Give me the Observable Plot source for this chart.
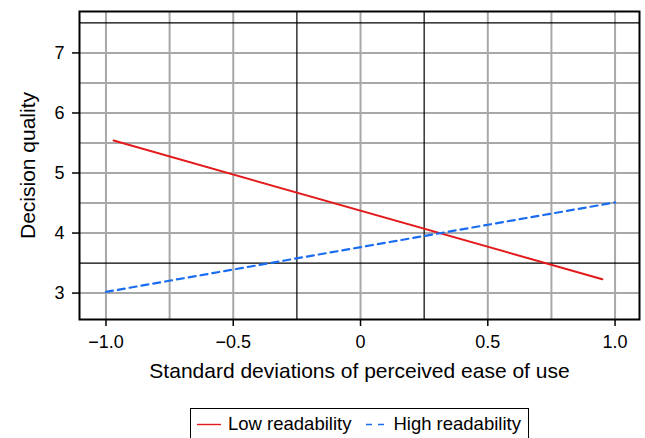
<!DOCTYPE html>
<html>
<head>
<meta charset="utf-8">
<script src="https://cdn.jsdelivr.net/npm/d3@7"></script>
<script src="https://cdn.jsdelivr.net/npm/@observablehq/plot@0.6"></script>
<style>
  body { margin: 0; background: #fff; font-family: "Liberation Sans", Arial, sans-serif; }
  #legend {
    box-sizing: border-box; margin-left: 190px; margin-top: 13px; width: 339px; height: 40px;
    border: 1px solid #000; padding: 5px 0 0 6px; display: flex; align-items: flex-start;
    font-size: 18.5px; line-height: 20px; color: #000; white-space: nowrap;
  }
  #legend svg { display: block; }
  .item { display: flex; align-items: center; }
</style>
</head>
<body>
<div id="chart"></div>
<script>
const seriesNames = ["Low readability", "High readability"];
const seriesColors = ["#e31a1c", "#1a6cf0"];
const lowX = [-0.97, 0.95];
const lowY = [5.54, 3.23];
const highX = [-1.0, 1.0];
const highY = [3.02, 4.51];
const xTicks = [-1, -0.5, 0, 0.5, 1];
const yTicks = [3, 4, 5, 6, 7];
const grayGridX = [-1, -0.75, -0.5, 0, 0.5, 0.75, 1];
const blackGridX = [-0.25, 0.25];
const grayGridY = [3, 4, 4.5, 5, 5.5, 6, 6.5, 7];
const blackGridY = [3.5, 7.5];
const xTitle = "Standard deviations of perceived ease of use";
const yTitle = "Decision quality";

const lowData = lowX.map((x, i) => ({x, y: lowY[i]}));
const highData = highX.map((x, i) => ({x, y: highY[i]}));
const fmtX = d => d === 0 ? "0" : (d < 0 ? "\u2212" : "") + Math.abs(d).toFixed(1);
const fmtY = d => String(d);

const plot = Plot.plot({
  width: 645, height: 395,
  marginLeft: 79, marginRight: 6, marginTop: 11, marginBottom: 76,
  style: {fontFamily: "'Liberation Sans', Arial, sans-serif", fontSize: "18px", color: "#000", background: "#fff"},
  x: {domain: [-1.104, 1.096]},
  y: {domain: [2.56, 7.69]},
  marks: [
    Plot.ruleX(grayGridX, {stroke: "#a8a8a8", strokeWidth: 2}),
    Plot.ruleY(grayGridY, {stroke: "#a8a8a8", strokeWidth: 2}),
    Plot.ruleX(blackGridX, {stroke: "#000", strokeWidth: 1.2}),
    Plot.ruleY(blackGridY, {stroke: "#000", strokeWidth: 1.2}),
    Plot.line(lowData, {x: "x", y: "y", stroke: seriesColors[0], strokeWidth: 2}),
    Plot.line(highData, {x: "x", y: "y", stroke: seriesColors[1], strokeWidth: 2.2, strokeDasharray: "7,5"}),
    Plot.frame({stroke: "#000", strokeWidth: 2}),
    Plot.axisX({ticks: xTicks, tickSize: 7, tickPadding: 9, tickFormat: fmtX, strokeWidth: 1.5, label: null}),
    Plot.axisX({ticks: [], tickSize: 0, label: xTitle, labelAnchor: "center", labelOffset: 58, labelArrow: "none", fontSize: 21}),
    Plot.axisY({ticks: yTicks, tickSize: 7, tickPadding: 8, tickFormat: fmtY, strokeWidth: 1.5, label: null}),
    Plot.axisY({ticks: [], tickSize: 0, label: yTitle, labelAnchor: "center", labelOffset: 59, labelArrow: "none", fontSize: 21})
  ]
});
document.getElementById("chart").appendChild(plot);

// legend
const legend = document.createElement("div");
legend.id = "legend";
const swatch = (i) => {
  const w = i === 0 ? 24 : 20;
  const dash = i === 0 ? "" : ` stroke-dasharray="6,6"`;
  return `<svg width="${w}" height="20"><line x1="0" x2="${w}" y1="10.5" y2="10.5" stroke="${seriesColors[i]}" stroke-width="1.4"${dash}/></svg>`;
};
legend.innerHTML =
  `<span class="item">${swatch(0)}<span style="margin-left:7px">${seriesNames[0]}</span></span>` +
  `<span class="item" style="margin-left:15px">${swatch(1)}<span style="margin-left:7px">${seriesNames[1]}</span></span>`;
document.body.appendChild(legend);
</script>
</body>
</html>
